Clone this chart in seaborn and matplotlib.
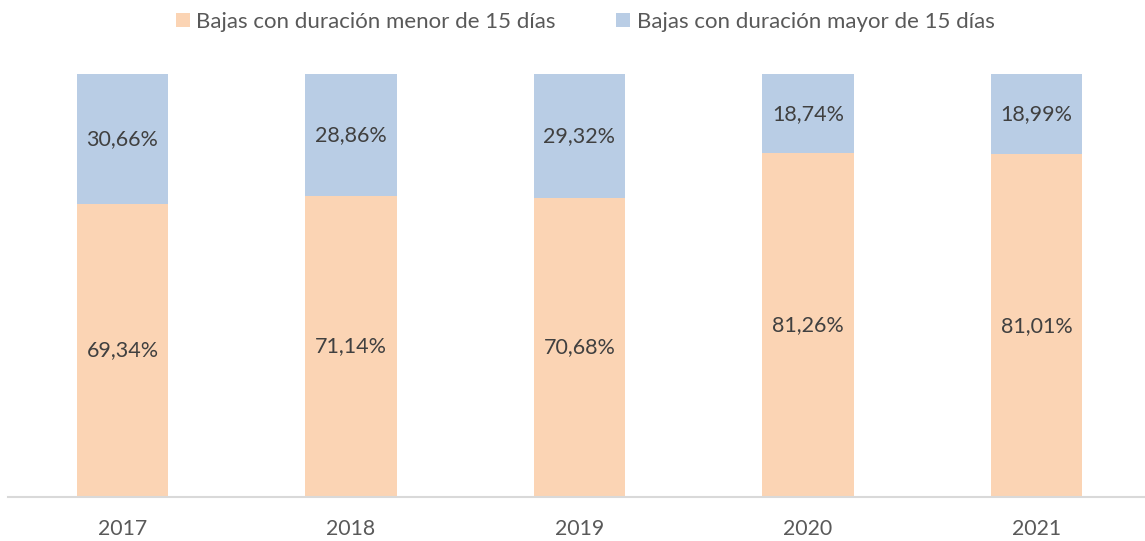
import matplotlib
matplotlib.use("Agg")
import matplotlib.pyplot as plt
import pandas as pd
import seaborn as sns
from matplotlib.patches import Patch

years = ["2017", "2018", "2019", "2020", "2021"]
menor_15 = [69.34, 71.14, 70.68, 81.26, 81.01]
mayor_15 = [30.66, 28.86, 29.32, 18.74, 18.99]
series_names = ["Bajas con duración menor de 15 días", "Bajas con duración mayor de 15 días"]

ORANGE = "#FBD4B4"
BLUE = "#B9CDE5"

sns.set_theme(style="white")
plt.rcParams["font.family"] = ["Lato", "DejaVu Sans"]

df = pd.DataFrame({"year": years, "menor": menor_15, "mayor": mayor_15})
df["total"] = df["menor"] + df["mayor"]

fig = plt.figure(figsize=(11.45, 5.41), dpi=100)
ax = fig.add_axes([8 / 1145, 44 / 541, 1 - 8 / 1145, 423 / 541])

# blue is drawn full height, orange over it
sns.barplot(data=df, x="year", y="total", color=BLUE, width=0.4,
            saturation=1, linewidth=0, ax=ax)
sns.barplot(data=df, x="year", y="menor", color=ORANGE, width=0.4,
            saturation=1, linewidth=0, ax=ax)

for i, row in df.iterrows():
    ax.text(i, row["menor"] / 2, f"{row['menor']:.2f}%".replace(".", ","),
            ha="center", va="center", fontsize=15.5, color="#404040")
    ax.text(i, row["menor"] + row["mayor"] / 2, f"{row['mayor']:.2f}%".replace(".", ","),
            ha="center", va="center", fontsize=15.5, color="#404040")

ax.set_xlim(-0.501, 4.475)
ax.set_ylim(0, 100)
ax.set_xlabel("")
ax.set_ylabel("")
ax.set_yticks([])
ax.tick_params(axis="x", length=0, pad=16, labelsize=15.3, labelcolor="#595959")
for side in ["top", "left", "right"]:
    ax.spines[side].set_visible(False)
ax.spines["bottom"].set_color("#D9D9D9")
ax.spines["bottom"].set_linewidth(1.5)

handles = [Patch(facecolor=ORANGE, edgecolor="none"), Patch(facecolor=BLUE, edgecolor="none")]
fig.legend(handles, series_names, loc="upper center", bbox_to_anchor=(0.511, 1.015),
           ncol=2, frameon=False, fontsize=16, labelcolor="#595959",
           handlelength=0.63, handleheight=0.63, handletextpad=0.3, columnspacing=2.7)

fig.savefig("out.png", dpi=100)
plt.close(fig)
